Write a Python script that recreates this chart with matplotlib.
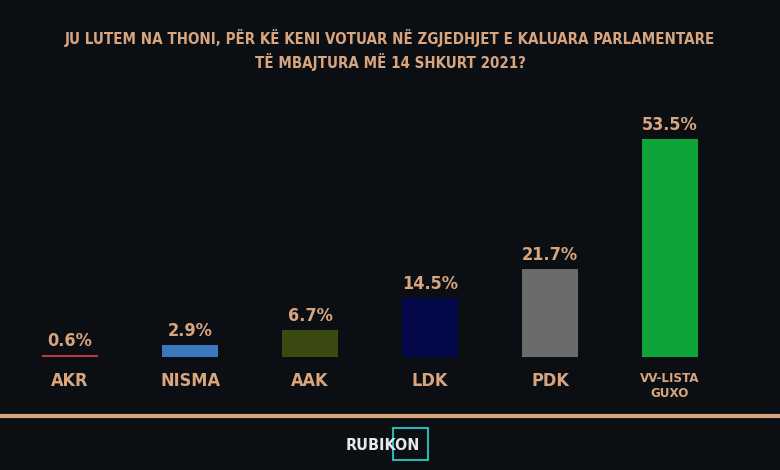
import numpy as np
import matplotlib.pyplot as plt
from matplotlib.patches import Rectangle

parties = ["AKR", "NISMA", "AAK", "LDK", "PDK", "VV-LISTA\nGUXO"]
shares = [0.6, 2.9, 6.7, 14.5, 21.7, 53.5]
bar_colors = ["#c0393b", "#3a78c0", "#3b4a12", "#04094a", "#6b6b6b", "#0ea43a"]

title = ("JU LUTEM NA THONI, PËR KË KENI VOTUAR NË ZGJEDHJET E KALUARA PARLAMENTARE\n"
         "TË MBAJTURA MË 14 SHKURT 2021?")

bg = "#0b0f14"
tan = "#d9a57e"
font = "DejaVu Sans"
st = "condensed"

fig = plt.figure(figsize=(7.8, 4.7), dpi=100, facecolor=bg)
ax = fig.add_axes([0, 1 - 357 / 470, 1, 257 / 470])
ax.set_facecolor(bg)

x = np.arange(len(parties))
bars = ax.bar(x, shares, width=0.47, color=bar_colors)
for b, v in zip(bars, shares):
    ax.text(b.get_x() + b.get_width() / 2, v + 1.2, f"{v}%", ha="center", va="bottom",
            color=tan, fontsize=13, fontweight="bold", family=font, fontstretch=st)

ax.set_xlim(-70 / 120, 710 / 120)
ax.set_ylim(0, 257 / 218 * 53.5)
ax.set_xticks(x)
ax.set_xticklabels(parties, color=tan, fontsize=13, fontweight="bold", family=font,
                   fontstretch=st, va="top")
ax.get_xticklabels()[-1].set_fontsize(9.5)
ax.tick_params(axis="x", length=0, pad=11)
ax.set_yticks([])
for s in ax.spines.values():
    s.set_visible(False)

fig.text(0.5, 1 - 50 / 470, title, ha="center", va="center", color=tan,
         fontsize=10.8, fontweight="bold", family=font, fontstretch=st, linespacing=1.4)

fig.add_artist(plt.Line2D([0, 1], [1 - 416 / 470] * 2, color=tan, lw=3,
                          transform=fig.transFigure))

# logo
fig.add_artist(Rectangle((393 / 780, 1 - 460 / 470), 35 / 780, 32 / 470,
                         transform=fig.transFigure, fill=False, edgecolor="#2bb5b0", lw=1.5))
fig.text(383 / 780, 1 - 446 / 470, "RUBIKON", ha="center", va="center", color="#e8e8e8",
         fontsize=11.5, fontweight="bold", family=font, fontstretch=st)

fig.savefig("out.png", facecolor=bg)
